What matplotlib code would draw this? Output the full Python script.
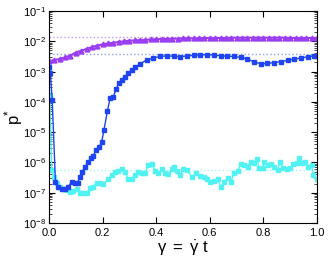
import matplotlib
matplotlib.use("Agg")
import matplotlib.pyplot as plt
import numpy as np

plt.rcParams["font.family"] = ["Liberation Sans", "DejaVu Sans"]
plt.rcParams["mathtext.fontset"] = "custom"
plt.rcParams["mathtext.rm"] = "Liberation Sans"
plt.rcParams["mathtext.it"] = "Liberation Sans:italic"
plt.rcParams["mathtext.bf"] = "Liberation Sans:bold"

# ---- data ----
purple_x = [0.00, 0.02, 0.04, 0.06, 0.08, 0.10, 0.12, 0.14, 0.16, 0.18, 0.20,
            0.22, 0.24, 0.26, 0.28, 0.30, 0.32, 0.34, 0.36, 0.38, 0.40,
            0.42, 0.44, 0.46, 0.48, 0.50, 0.52, 0.54, 0.56, 0.58, 0.60,
            0.62, 0.64, 0.66, 0.68, 0.70, 0.72, 0.74, 0.76, 0.78, 0.80,
            0.82, 0.84, 0.86, 0.88, 0.90, 0.92, 0.94, 0.96, 0.98, 1.00]
purple_y = [2.24e-3, 2.40e-3, 2.63e-3, 2.95e-3, 3.39e-3, 4.27e-3, 4.90e-3, 5.62e-3,
            6.46e-3, 7.24e-3, 7.94e-3, 8.51e-3, 8.91e-3, 9.55e-3, 1.00e-2, 1.05e-2,
            1.07e-2, 1.10e-2, 1.12e-2, 1.15e-2, 1.17e-2, 1.20e-2, 1.20e-2, 1.23e-2,
            1.23e-2, 1.26e-2, 1.26e-2, 1.26e-2, 1.26e-2, 1.29e-2, 1.29e-2, 1.29e-2,
            1.29e-2, 1.29e-2, 1.32e-2, 1.32e-2, 1.32e-2, 1.32e-2, 1.32e-2, 1.32e-2,
            1.32e-2, 1.32e-2, 1.32e-2, 1.32e-2, 1.32e-2, 1.29e-2, 1.29e-2, 1.29e-2,
            1.29e-2, 1.29e-2, 1.29e-2]

blue_x = [0.000, 0.005, 0.012, 0.024, 0.035, 0.047, 0.060, 0.072, 0.085, 0.097,
          0.107, 0.116, 0.124, 0.134, 0.144, 0.156, 0.165, 0.175, 0.187, 0.197,
          0.205, 0.218, 0.228, 0.240, 0.250, 0.261, 0.274, 0.284, 0.296, 0.309,
          0.321, 0.340, 0.364, 0.389, 0.414, 0.440, 0.465, 0.490, 0.515, 0.540,
          0.565, 0.590, 0.615, 0.640, 0.665, 0.690, 0.715, 0.740, 0.765, 0.790,
          0.815, 0.840, 0.865, 0.890, 0.915, 0.940, 0.965, 0.990, 1.000]
blue_log = [-2.86, -3.04, -3.94, -6.63, -6.80, -6.88, -6.88, -6.80, -6.63, -6.69,
            -6.67, -6.47, -6.30, -6.16, -6.00, -5.86, -5.79, -5.59, -5.50, -5.31,
            -4.93, -4.30, -3.88, -3.83, -3.58, -3.37, -3.28, -3.17, -3.06, -2.95,
            -2.86, -2.74, -2.62, -2.55, -2.50, -2.48, -2.49, -2.51, -2.48, -2.46,
            -2.45, -2.44, -2.45, -2.48, -2.49, -2.50, -2.53, -2.58, -2.68, -2.74,
            -2.73, -2.70, -2.67, -2.63, -2.59, -2.55, -2.51, -2.48, -2.47]

cyan_x = [0.000, 0.003, 0.010, 0.019, 0.029, 0.041, 0.053, 0.066, 0.078, 0.091,
          0.103, 0.116, 0.128, 0.141, 0.153, 0.165, 0.178, 0.190, 0.203, 0.221,
          0.234, 0.246, 0.259, 0.271, 0.284, 0.296, 0.309, 0.321, 0.333, 0.346,
          0.358, 0.371, 0.383, 0.396, 0.408, 0.420, 0.433, 0.445, 0.458, 0.466,
          0.478, 0.489, 0.501, 0.516, 0.532, 0.549, 0.563, 0.578, 0.591, 0.600,
          0.617, 0.629, 0.642, 0.654, 0.667, 0.679, 0.691, 0.704, 0.716, 0.729,
          0.741, 0.754, 0.766, 0.775, 0.785, 0.797, 0.803, 0.816, 0.828, 0.841,
          0.853, 0.862, 0.874, 0.887, 0.899, 0.912, 0.924, 0.934, 0.943, 0.955,
          0.968, 0.980, 0.986, 0.999]
cyan_log = [-2.95, -3.80, -6.25, -6.47, -6.69, -6.80, -6.89, -6.90, -6.96, -6.93,
            -6.89, -7.02, -7.00, -7.02, -6.85, -6.80, -6.69, -6.67, -6.71, -6.56,
            -6.41, -6.33, -6.27, -6.22, -6.30, -6.56, -6.56, -6.41, -6.30, -6.34,
            -6.36, -6.08, -6.05, -6.27, -6.36, -6.22, -6.36, -6.38, -6.22, -6.14,
            -6.27, -6.41, -6.22, -6.25, -6.47, -6.36, -6.45, -6.49, -6.56, -6.63,
            -6.60, -6.56, -6.80, -6.63, -6.52, -6.63, -6.34, -6.27, -6.05, -6.08,
            -6.14, -5.97, -6.03, -5.89, -6.19, -6.19, -6.00, -6.08, -6.05, -6.14,
            -6.25, -5.97, -6.19, -6.22, -6.19, -6.05, -6.03, -5.86, -6.03, -5.97,
            -6.14, -6.08, -6.41, -6.56]

ref_levels = [1.4e-2, 3.7e-3, 5.6e-7]

x_ticks = [0.0, 0.2, 0.4, 0.6, 0.8, 1.0]
x_tick_labels = ["0.0", "0.2", "0.4", "0.6", "0.8", "1.0"]
y_ticks = [1e-8, 1e-7, 1e-6, 1e-5, 1e-4, 1e-3, 1e-2, 1e-1]

# ---- style ----
c_purple = "#9a3cf2"
c_blue = "#1f44f2"
c_cyan = "#52f2f2"
c_purple_l = "#c49af5"
c_blue_l = "#8aa0f5"
c_cyan_l = "#a8f5f5"

fig = plt.figure(figsize=(3.32, 2.57), dpi=100)
ax = fig.add_axes([0.1476, 0.1323, 0.8072, 0.8247])

ax.axhline(ref_levels[0], color=c_purple_l, ls=":", lw=1.0)
ax.axhline(ref_levels[1], color=c_blue_l, ls=":", lw=1.0)
ax.axhline(ref_levels[2], color=c_cyan_l, ls=":", lw=1.0)

ax.plot(cyan_x, 10.0 ** np.array(cyan_log), color=c_cyan, lw=1.0,
        marker="s", ms=3.2, mec=c_cyan, mfc=c_cyan)
ax.plot(blue_x, 10.0 ** np.array(blue_log), color=c_blue, lw=1.0,
        marker="s", ms=2.8, mec=c_blue, mfc=c_blue)
ax.plot(purple_x, purple_y, color=c_purple, lw=1.5,
        marker="^", ms=3.5, mec=c_purple, mfc=c_purple)

ax.set_yscale("log")
ax.set_xlim(0, 1)
ax.set_ylim(1e-8, 1e-1)
ax.set_xticks(x_ticks)
ax.set_xticklabels(x_tick_labels)
ax.set_yticks(y_ticks)
ax.yaxis.set_minor_locator(matplotlib.ticker.LogLocator(base=10, subs=np.arange(2, 10), numticks=20))
ax.yaxis.set_minor_formatter(matplotlib.ticker.NullFormatter())
ax.tick_params(which="both", direction="in", top=True, right=True, labelsize=8)
ax.tick_params(which="major", length=4, width=0.8)
ax.tick_params(axis="x", which="major", pad=3.5)
ax.tick_params(axis="y", which="major", pad=2)
ax.tick_params(which="minor", length=2, width=0.5)
for sp in ax.spines.values():
    sp.set_linewidth(0.8)

ax.set_ylabel(r"p$^{*}$", fontsize=12)
ax.yaxis.set_label_coords(-0.09, 0.5)
ax.set_xlabel(r"$\mathregular{\gamma\ =\ \dot{\gamma}\ t}$", fontsize=12)
ax.xaxis.set_label_coords(0.5, -0.075)

fig.savefig("out.png", dpi=100)
